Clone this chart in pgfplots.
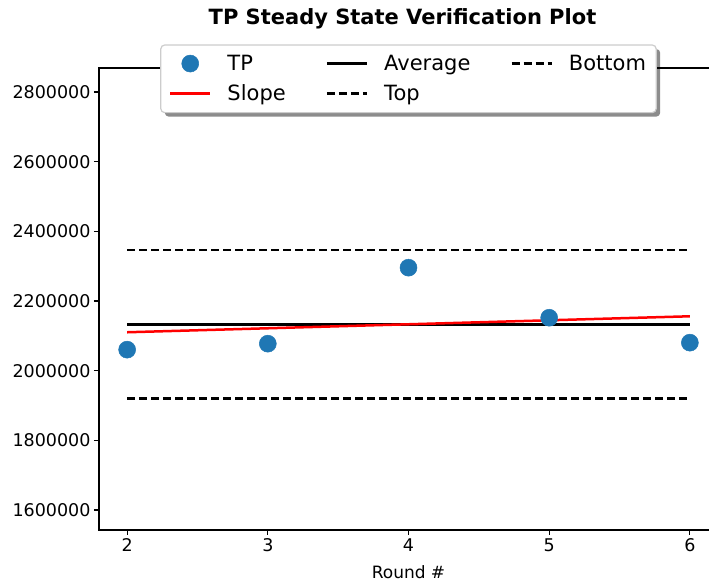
\documentclass[border=0pt]{standalone}
\usepackage{pgfplots}
\pgfplotsset{compat=1.18}
\usepackage{fontspec}
\setmainfont{DejaVu Sans}
\usetikzlibrary{backgrounds}
\definecolor{tpblue}{HTML}{1F77B4}
\pgfplotsset{
  lineleg/.style={legend image code/.code={\draw[##1, line width=2.5pt] (0pt,0pt) -- (40pt,0pt);}},
  markleg/.style={legend image code/.code={\draw[mark repeat=2, mark phase=2, ##1] plot coordinates {(0pt,0pt) (20pt,0pt) (40pt,0pt)};}},
}
\begin{document}
\begin{tikzpicture}
\begin{axis}[
  at={(0,0)}, anchor=south west,
  scale only axis, width=619pt, height=462pt,
  xmin=1.8, xmax=6.2, ymin=1542600, ymax=2868900,
  xtick={2,3,4,5,6},
  ytick={1600000,1800000,2000000,2200000,2400000,2600000,2800000},
  scaled y ticks=false,
  yticklabel={\pgfmathprintnumber[fixed,1000 sep={},precision=0]{\tick}},
  /pgf/number format/assume math mode=true,
  tick label style={font=\fontsize{17.5}{20}\selectfont},
  tick align=outside, tick pos=left,
  major tick length=5pt,
  tick style={line width=1.2pt, black},
  axis line style={line width=1.2pt},
  title={TP Steady State Verification Plot},
  title style={font=\bfseries\fontsize{21}{24}\selectfont, at={(axis description cs:0.5,1)}, anchor=base, yshift=37pt, xshift=-6pt},
  xlabel={Round \#},
  xlabel style={font=\fontsize{17}{20}\selectfont, at={(axis description cs:0.5,0)}, anchor=base, yshift=-49pt},
  legend columns=3,
  legend cell align=left,
  legend style={at={(0.5,1.0498)}, anchor=north, name=leg,
    font=\fontsize{21}{24}\selectfont,
    draw=none, fill=white, rounded corners=4pt,
    inner xsep=8pt, inner ysep=8pt,
    column sep=14pt, row sep=9pt,
    /tikz/every even column/.append style={column sep=38pt}},
  legend image post style={line width=2.5pt},
  lineleg,
]
\addplot[only marks, mark=*, mark size=8.5pt, color=tpblue, mark options={draw=tpblue, fill=tpblue, line width=0.5pt}, markleg]
  coordinates {(2,2060300) (3,2077500) (4,2295700) (5,2152000) (6,2080400)};
\addlegendentry{TP}
\addplot[black, line width=2.5pt] coordinates {(2,2133180) (6,2133180)};
\addlegendentry{Average}
\addplot[black, line width=2.5pt, dash pattern=on 8pt off 4pt] coordinates {(2,1919862) (6,1919862)};
\addlegendentry{Bottom}
\addplot[red, line width=2.5pt] coordinates {(2,2110240) (6,2156120)};
\addlegendentry{Slope}
\addplot[black, line width=2.5pt, dash pattern=on 8pt off 4pt] coordinates {(2,2346498) (6,2346498)};
\addlegendentry{Top}
\end{axis}
\begin{scope}[on background layer]
\fill[black!45, rounded corners=4pt] ([shift={(4pt,-4pt)}]leg.south west) rectangle ([shift={(4pt,-4pt)}]leg.north east);
\end{scope}
\draw[black!20, line width=1.2pt, rounded corners=4pt] (leg.south west) rectangle (leg.north east);
\pgfresetboundingbox
\path (-99pt,-55pt) rectangle (610pt,530pt);
\end{tikzpicture}
\end{document}
